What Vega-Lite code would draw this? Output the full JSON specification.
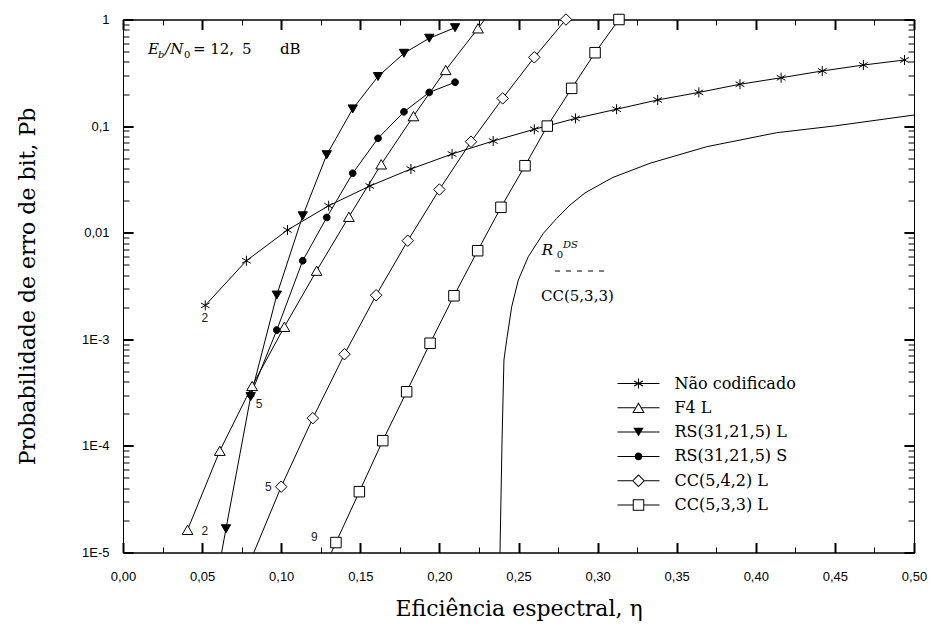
{
  "$schema": "https://vega.github.io/schema/vega-lite/v6.json",
  "width": 791,
  "height": 533,
  "autosize": "none",
  "padding": {"left": 123, "top": 19.5, "right": 17, "bottom": 75.5},
  "background": "white",
  "config": {"view": {"stroke": "black", "strokeWidth": 1}},
  "datasets": {
    "curves": [
      {"series": "Não codificado", "x": 0.052, "p": 0.00208},
      {"series": "Não codificado", "x": 0.078, "p": 0.00546},
      {"series": "Não codificado", "x": 0.104, "p": 0.0106},
      {"series": "Não codificado", "x": 0.130, "p": 0.0179},
      {"series": "Não codificado", "x": 0.156, "p": 0.0274},
      {"series": "Não codificado", "x": 0.182, "p": 0.0396},
      {"series": "Não codificado", "x": 0.208, "p": 0.0547},
      {"series": "Não codificado", "x": 0.234, "p": 0.0725},
      {"series": "Não codificado", "x": 0.260, "p": 0.0933},
      {"series": "Não codificado", "x": 0.286, "p": 0.118},
      {"series": "Não codificado", "x": 0.312, "p": 0.144},
      {"series": "Não codificado", "x": 0.338, "p": 0.176},
      {"series": "Não codificado", "x": 0.364, "p": 0.207},
      {"series": "Não codificado", "x": 0.390, "p": 0.247},
      {"series": "Não codificado", "x": 0.416, "p": 0.284},
      {"series": "Não codificado", "x": 0.442, "p": 0.329},
      {"series": "Não codificado", "x": 0.468, "p": 0.374},
      {"series": "Não codificado", "x": 0.494, "p": 0.417},
      {"series": "F4 L", "x": 0.0408, "p": 0.0000163},
      {"series": "F4 L", "x": 0.0612, "p": 0.000090},
      {"series": "F4 L", "x": 0.0816, "p": 0.000365},
      {"series": "F4 L", "x": 0.1020, "p": 0.00131},
      {"series": "F4 L", "x": 0.1224, "p": 0.0044},
      {"series": "F4 L", "x": 0.1428, "p": 0.0141},
      {"series": "F4 L", "x": 0.1632, "p": 0.0438},
      {"series": "F4 L", "x": 0.1836, "p": 0.124},
      {"series": "F4 L", "x": 0.2040, "p": 0.336},
      {"series": "F4 L", "x": 0.2244, "p": 0.827},
      {"series": "F4 L", "x": 0.2448, "p": 2.05},
      {"series": "RS(31,21,5) L", "x": 0.0483, "p": 0.00000074},
      {"series": "RS(31,21,5) L", "x": 0.0651, "p": 0.0000167},
      {"series": "RS(31,21,5) L", "x": 0.0807, "p": 0.000290},
      {"series": "RS(31,21,5) L", "x": 0.0972, "p": 0.0026},
      {"series": "RS(31,21,5) L", "x": 0.1136, "p": 0.0144},
      {"series": "RS(31,21,5) L", "x": 0.1288, "p": 0.0539},
      {"series": "RS(31,21,5) L", "x": 0.1452, "p": 0.145},
      {"series": "RS(31,21,5) L", "x": 0.1612, "p": 0.292},
      {"series": "RS(31,21,5) L", "x": 0.1776, "p": 0.482},
      {"series": "RS(31,21,5) L", "x": 0.1936, "p": 0.667},
      {"series": "RS(31,21,5) L", "x": 0.2099, "p": 0.838},
      {"series": "RS(31,21,5) S", "x": 0.0807, "p": 0.000300},
      {"series": "RS(31,21,5) S", "x": 0.0972, "p": 0.00122},
      {"series": "RS(31,21,5) S", "x": 0.1136, "p": 0.00546},
      {"series": "RS(31,21,5) S", "x": 0.1288, "p": 0.0139},
      {"series": "RS(31,21,5) S", "x": 0.1452, "p": 0.0361},
      {"series": "RS(31,21,5) S", "x": 0.1612, "p": 0.0768},
      {"series": "RS(31,21,5) S", "x": 0.1776, "p": 0.136},
      {"series": "RS(31,21,5) S", "x": 0.1936, "p": 0.207},
      {"series": "RS(31,21,5) S", "x": 0.2099, "p": 0.258},
      {"series": "CC(5,4,2) L", "x": 0.08, "p": 0.0000080},
      {"series": "CC(5,4,2) L", "x": 0.10, "p": 0.0000414},
      {"series": "CC(5,4,2) L", "x": 0.12, "p": 0.000182},
      {"series": "CC(5,4,2) L", "x": 0.14, "p": 0.000725},
      {"series": "CC(5,4,2) L", "x": 0.16, "p": 0.00259},
      {"series": "CC(5,4,2) L", "x": 0.18, "p": 0.00841},
      {"series": "CC(5,4,2) L", "x": 0.20, "p": 0.0254},
      {"series": "CC(5,4,2) L", "x": 0.22, "p": 0.0714},
      {"series": "CC(5,4,2) L", "x": 0.24, "p": 0.182},
      {"series": "CC(5,4,2) L", "x": 0.26, "p": 0.442},
      {"series": "CC(5,4,2) L", "x": 0.28, "p": 1.0},
      {"series": "CC(5,3,3) L", "x": 0.1197, "p": 0.0000041},
      {"series": "CC(5,3,3) L", "x": 0.1346, "p": 0.0000124},
      {"series": "CC(5,3,3) L", "x": 0.1494, "p": 0.0000372},
      {"series": "CC(5,3,3) L", "x": 0.1642, "p": 0.000112},
      {"series": "CC(5,3,3) L", "x": 0.1793, "p": 0.000322},
      {"series": "CC(5,3,3) L", "x": 0.1941, "p": 0.000918},
      {"series": "CC(5,3,3) L", "x": 0.2092, "p": 0.00256},
      {"series": "CC(5,3,3) L", "x": 0.2242, "p": 0.00678},
      {"series": "CC(5,3,3) L", "x": 0.2389, "p": 0.0173},
      {"series": "CC(5,3,3) L", "x": 0.2541, "p": 0.0425},
      {"series": "CC(5,3,3) L", "x": 0.2682, "p": 0.100},
      {"series": "CC(5,3,3) L", "x": 0.2836, "p": 0.226},
      {"series": "CC(5,3,3) L", "x": 0.2984, "p": 0.488},
      {"series": "CC(5,3,3) L", "x": 0.3135, "p": 1.0},
      {"series": "R0DS", "x": 0.2380, "p": 0.000001},
      {"series": "R0DS", "x": 0.2383, "p": 0.00001},
      {"series": "R0DS", "x": 0.2396, "p": 0.000114},
      {"series": "R0DS", "x": 0.2408, "p": 0.00064},
      {"series": "R0DS", "x": 0.2425, "p": 0.00098},
      {"series": "R0DS", "x": 0.2457, "p": 0.00202},
      {"series": "R0DS", "x": 0.2499, "p": 0.0036},
      {"series": "R0DS", "x": 0.2562, "p": 0.00596},
      {"series": "R0DS", "x": 0.2657, "p": 0.00987},
      {"series": "R0DS", "x": 0.2741, "p": 0.0136},
      {"series": "R0DS", "x": 0.2826, "p": 0.0182},
      {"series": "R0DS", "x": 0.2920, "p": 0.0236},
      {"series": "R0DS", "x": 0.3015, "p": 0.0283},
      {"series": "R0DS", "x": 0.3097, "p": 0.033},
      {"series": "R0DS", "x": 0.3331, "p": 0.0448},
      {"series": "R0DS", "x": 0.3690, "p": 0.0641},
      {"series": "R0DS", "x": 0.4132, "p": 0.0867},
      {"series": "R0DS", "x": 0.4490, "p": 0.100},
      {"series": "R0DS", "x": 0.5000, "p": 0.127}
    ]
  },
  "layer": [
    {
      "data": {"name": "curves"},
      "mark": {"type": "line", "stroke": "black", "strokeWidth": 1, "clip": true},
      "encoding": {
        "x": {"field": "x", "type": "quantitative", "scale": {"domain": [0, 0.5], "nice": false, "zero": false},
          "axis": {"orient": "bottom", "values": [0, 0.05, 0.1, 0.15, 0.2, 0.25, 0.3, 0.35, 0.4, 0.45, 0.5], "domainColor": "black", "grid": true, "gridColor": "black", "gridWidth": 1, "gridOpacity": 1, "gridDash": [10, 513], "tickColor": "black", "tickWidth": 2, "tickSize": -10, "labelPadding": 28, "labelFlush": false, "labelColor": "black", "labelFont": "Liberation Sans", "labelFontSize": 13, "labelExpr": "replace(format(datum.value, '.2f'), '.', ',')", "title": "Eficiência espectral, η", "titleColor": "black", "titleFont": "DejaVu Serif", "titleFontSize": 22, "titleFontWeight": "normal", "titlePadding": 15}},
        "y": {"field": "p", "type": "quantitative", "scale": {"type": "log", "domain": [0.00001, 1], "nice": false},
          "axis": {"orient": "left", "values": [0.00001, 0.0001, 0.001, 0.01, 0.1, 1], "domainColor": "black", "grid": true, "gridColor": "black", "gridWidth": 1, "gridOpacity": 1, "gridDash": [10, 771], "tickColor": "black", "tickWidth": 2, "tickSize": -10, "labelPadding": 24, "labelColor": "black", "labelFont": "Liberation Sans", "labelFontSize": 13, "labelExpr": "datum.value > 0.5 ? '1' : datum.value > 0.05 ? '0,1' : datum.value > 0.005 ? '0,01' : datum.value > 0.0005 ? '1E-3' : datum.value > 0.00005 ? '1E-4' : '1E-5'", "title": "Probabilidade de erro de bit, Pb", "titleColor": "black", "titleFont": "DejaVu Serif", "titleFontSize": 22, "titleFontWeight": "normal", "titlePadding": 42}},
        "detail": {"field": "series", "type": "nominal"}
      }
    },
    {
      "data": {"name": "curves"},
      "transform": [{"filter": "datum.series != 'R0DS' && datum.p >= 0.000009 && datum.p <= 1.05"}],
      "mark": {"type": "point", "filled": true, "stroke": "black", "strokeWidth": 1, "size": 100, "opacity": 1, "clip": false},
      "encoding": {
        "x": {"field": "x", "type": "quantitative",
          "axis": {"orient": "top", "values": [0, 0.05, 0.1, 0.15, 0.2, 0.25, 0.3, 0.35, 0.4, 0.45, 0.5], "domainColor": "black", "grid": false, "tickColor": "black", "tickWidth": 2, "tickSize": -10, "labels": false, "title": null}},
        "y": {"field": "p", "type": "quantitative",
          "axis": {"orient": "right", "values": [0.00001, 0.0001, 0.001, 0.01, 0.1, 1], "domainColor": "black", "grid": false, "tickColor": "black", "tickWidth": 2, "tickSize": -10, "labels": false, "title": null}},
        "shape": {"field": "series", "type": "nominal", "legend": null,
          "scale": {"domain": ["Não codificado", "F4 L", "RS(31,21,5) L", "RS(31,21,5) S", "CC(5,4,2) L", "CC(5,3,3) L"],
            "range": ["M0,-1V1M-0.87,-0.5L0.87,0.5M-0.87,0.5L0.87,-0.5", "M0,-0.93L1.07,0.93L-1.07,0.93Z", "M-0.93,-0.8L0.93,-0.8L0,0.8Z", "M-0.67,0A0.67,0.67,0,1,1,0.67,0A0.67,0.67,0,1,1,-0.67,0Z", "M0,-1.15L1.15,0L0,1.15L-1.15,0Z", "M-1.05,-1.05H1.05V1.05H-1.05Z"]}},
        "fill": {"field": "series", "type": "nominal", "legend": null,
          "scale": {"domain": ["Não codificado", "F4 L", "RS(31,21,5) L", "RS(31,21,5) S", "CC(5,4,2) L", "CC(5,3,3) L"],
            "range": ["white", "white", "black", "black", "white", "white"]}}
      }
    },
    {
      "data": {"values": []},
      "mark": {"type": "point", "filled": true, "fill": "black", "strokeWidth": 0, "size": 100, "opacity": 1},
      "encoding": {
        "shape": {"field": "series", "type": "nominal",
          "scale": {"domain": ["Não codificado", "F4 L", "RS(31,21,5) L", "RS(31,21,5) S", "CC(5,4,2) L", "CC(5,3,3) L"],
            "range": [
              "M-4.2,-0.1H4.2V0.1H-4.2ZM-0.1,-1H0.1V1H-0.1ZM-0.92,-0.413L-0.82,-0.587L0.92,0.413L0.82,0.587ZM-0.82,0.587L-0.92,0.413L0.82,-0.587L0.92,-0.413Z",
              "M-4.2,-0.1H-0.65V0.1H-4.2ZM0.65,-0.1H4.2V0.1H0.65ZM0,-1.131L1.243,1.03L-1.243,1.03ZM0,-0.729L-0.897,0.83L0.897,0.83Z",
              "M-4.2,-0.1H-0.5V0.1H-4.2ZM0.5,-0.1H4.2V0.1H0.5ZM-1.03,-0.88L1.03,-0.88L0,0.9Z",
              "M-4.2,-0.1H-0.7V0.1H-4.2ZM0.7,-0.1H4.2V0.1H0.7ZM-0.77,0A0.77,0.77,0,1,1,0.77,0A0.77,0.77,0,1,1,-0.77,0Z",
              "M-4.2,-0.1H-1.25V0.1H-4.2ZM1.25,-0.1H4.2V0.1H1.25ZM0,-1.29L1.29,0L0,1.29L-1.29,0ZM0,-1.01L-1.01,0L0,1.01L1.01,0Z",
              "M-4.2,-0.1H-1.1V0.1H-4.2ZM1.1,-0.1H4.2V0.1H1.1ZM-1.15,-1.15H1.15V1.15H-1.15ZM-0.95,-0.95V0.95H0.95V-0.95Z"
            ]},
          "legend": {"title": null, "orient": "none", "legendX": 507.5, "legendY": 356, "padding": 0, "symbolSize": 100, "symbolStrokeWidth": 0, "symbolFillColor": "black", "labelFont": "DejaVu Serif", "labelFontSize": 16, "labelColor": "black", "labelOffset": 28, "rowPadding": 8.3, "labelLimit": 0}}
      }
    },
    {
      "data": {"values": [
        {"x": 0.0518, "p": 0.00158, "t": "2"},
        {"x": 0.0860, "p": 0.000247, "t": "5"},
        {"x": 0.0518, "p": 0.000016, "t": "2"},
        {"x": 0.0918, "p": 0.0000414, "t": "5"},
        {"x": 0.1209, "p": 0.0000141, "t": "9"}
      ]},
      "mark": {"type": "text", "font": "Liberation Sans", "fontSize": 12, "fill": "#222222", "align": "center", "baseline": "middle"},
      "encoding": {
        "x": {"field": "x", "type": "quantitative",
          "axis": {"orient": "bottom", "values": [0.025, 0.075, 0.125, 0.175, 0.225, 0.275, 0.325, 0.375, 0.425, 0.475], "domain": false, "ticks": false, "labels": false, "title": null, "grid": true, "gridColor": "black", "gridWidth": 1, "gridOpacity": 1, "gridDash": [5.5, 522]}},
        "y": {"field": "p", "type": "quantitative",
          "axis": {"orient": "left", "values": [0.00002, 0.00003, 0.00004, 0.00005, 0.00006, 0.00007, 0.00008, 0.00009, 0.0002, 0.0003, 0.0004, 0.0005, 0.0006, 0.0007, 0.0008, 0.0009, 0.002, 0.003, 0.004, 0.005, 0.006, 0.007, 0.008, 0.009, 0.02, 0.03, 0.04, 0.05, 0.06, 0.07, 0.08, 0.09, 0.2, 0.3, 0.4, 0.5, 0.6, 0.7, 0.8, 0.9], "domain": false, "ticks": false, "labels": false, "title": null, "grid": true, "gridColor": "black", "gridWidth": 1, "gridOpacity": 1, "gridDash": [6, 779]}},
        "text": {"field": "t", "type": "nominal"}
      }
    },
    {
      "data": {"values": [{"x": 0.2731, "x2": 0.3066, "p": 0.00437}]},
      "mark": {"type": "rule", "stroke": "black", "strokeWidth": 1, "strokeDash": [5, 6]},
      "encoding": {
        "x": {"field": "x", "type": "quantitative", "axis": null},
        "x2": {"field": "x2"},
        "y": {"field": "p", "type": "quantitative", "axis": null}
      }
    },
    {
      "data": {"values": [
        {"x": 0.0158, "p": 0.4746, "t": "E"},
        {"x": 0.0266, "p": 0.4746, "t": "/N"},
        {"x": 0.2647, "p": 0.00618, "t": "R"}
      ]},
      "mark": {"type": "text", "font": "DejaVu Serif", "fontStyle": "italic", "fontSize": 15, "fill": "black", "align": "left", "baseline": "alphabetic"},
      "encoding": {
        "x": {"field": "x", "type": "quantitative", "axis": null},
        "y": {"field": "p", "type": "quantitative", "axis": null},
        "text": {"field": "t", "type": "nominal"}
      }
    },
    {
      "data": {"values": [
        {"x": 0.0442, "p": 0.4746, "t": "= 12,"},
        {"x": 0.0752, "p": 0.4746, "t": "5"},
        {"x": 0.0992, "p": 0.4746, "t": "dB"},
        {"x": 0.2642, "p": 0.00229, "t": "CC(5,3,3)"}
      ]},
      "mark": {"type": "text", "font": "DejaVu Serif", "fontSize": 15, "fill": "black", "align": "left", "baseline": "alphabetic"},
      "encoding": {
        "x": {"field": "x", "type": "quantitative", "axis": null},
        "y": {"field": "p", "type": "quantitative", "axis": null},
        "text": {"field": "t", "type": "nominal"}
      }
    },
    {
      "data": {"values": [
        {"x": 0.0386, "p": 0.440, "t": "0"},
        {"x": 0.2741, "p": 0.00575, "t": "0"}
      ]},
      "mark": {"type": "text", "font": "DejaVu Serif", "fontSize": 10, "fill": "black", "align": "left", "baseline": "alphabetic"},
      "encoding": {
        "x": {"field": "x", "type": "quantitative", "axis": null},
        "y": {"field": "p", "type": "quantitative", "axis": null},
        "text": {"field": "t", "type": "nominal"}
      }
    },
    {
      "data": {"values": [
        {"x": 0.0222, "p": 0.440, "t": "b"},
        {"x": 0.2781, "p": 0.00719, "t": "DS"}
      ]},
      "mark": {"type": "text", "font": "DejaVu Serif", "fontStyle": "italic", "fontSize": 10, "fill": "black", "align": "left", "baseline": "alphabetic"},
      "encoding": {
        "x": {"field": "x", "type": "quantitative", "axis": null},
        "y": {"field": "p", "type": "quantitative", "axis": null},
        "text": {"field": "t", "type": "nominal"}
      }
    }
  ],
  "resolve": {"axis": {"x": "independent", "y": "independent"}, "scale": {"shape": "independent"}}
}
